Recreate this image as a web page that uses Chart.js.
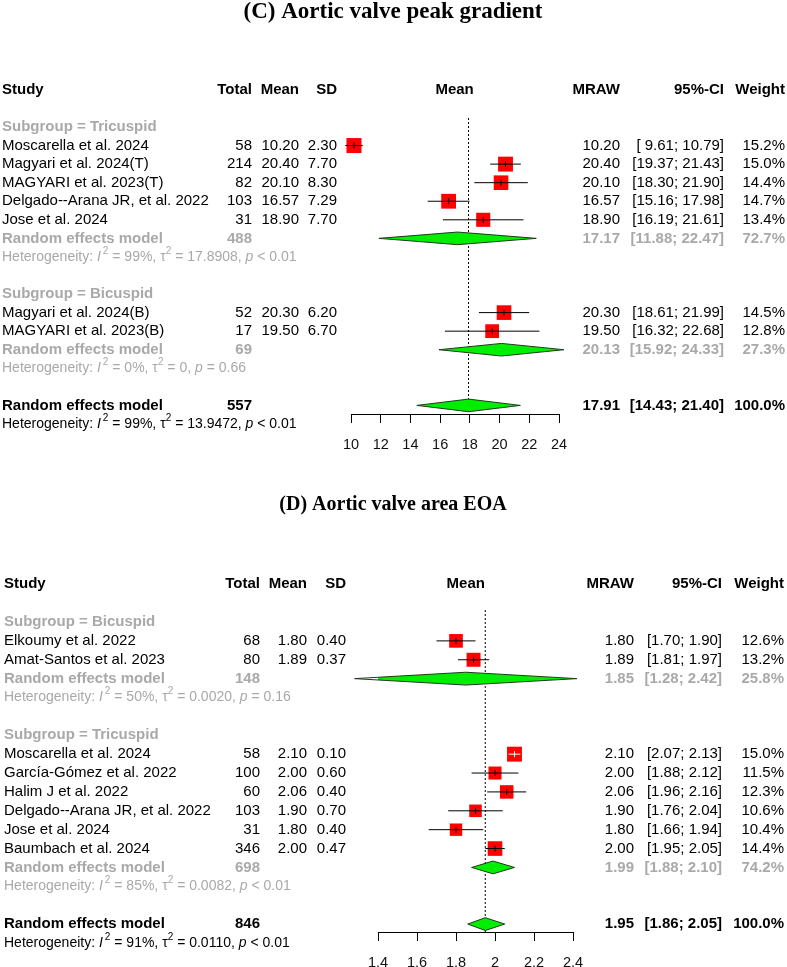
<!DOCTYPE html>
<html><head><meta charset="utf-8">
<script src="https://cdn.jsdelivr.net/npm/chart.js@4.4.0/dist/chart.umd.min.js"></script>
<style>
html,body{margin:0;padding:0;background:#fff;width:787px;height:967px;overflow:hidden}
.wrap{position:absolute;left:0;width:787px}
canvas{display:block}
</style></head><body>
<div class="wrap" style="top:0;height:483px"><canvas id="cC" width="787" height="483"></canvas></div>
<div class="wrap" style="top:483px;height:484px"><canvas id="cD" width="787" height="484"></canvas></div>
<script>
// ===== Panel C: Aortic valve peak gradient =====
const titleC = '(C) Aortic valve peak gradient';
const groupLabelsC = ['Subgroup = Tricuspid', 'Subgroup = Bicuspid'];
const studiesC_T = ['Moscarella et al. 2024','Magyari et al. 2024(T)','MAGYARI et al. 2023(T)','Delgado--Arana JR, et al. 2022','Jose et al. 2024'];
const totalC_T  = [58, 214, 82, 103, 31];
const meanC_T   = [10.20, 20.40, 20.10, 16.57, 18.90];
const sdC_T     = [2.30, 7.70, 8.30, 7.29, 7.70];
const lowerC_T  = [9.61, 19.37, 18.30, 15.16, 16.19];
const upperC_T  = [10.79, 21.43, 21.90, 17.98, 21.61];
const weightC_T = [15.2, 15.0, 14.4, 14.7, 13.4];
const studiesC_B = ['Magyari et al. 2024(B)','MAGYARI et al. 2023(B)'];
const totalC_B  = [52, 17];
const meanC_B   = [20.30, 19.50];
const sdC_B     = [6.20, 6.70];
const lowerC_B  = [18.61, 16.32];
const upperC_B  = [21.99, 22.68];
const weightC_B = [14.5, 12.8];
// random-effects results: [subgroup 1, subgroup 2, overall]
const reTotalC  = [488, 69, 557];
const reMeanC   = [17.17, 20.13, 17.91];
const reLowerC  = [11.88, 15.92, 14.43];
const reUpperC  = [22.47, 24.33, 21.40];
const reWeightC = [72.7, 27.3, 100.0];
const hetI2C    = ['99%', '0%', '99%'];
const hetTau2C  = ['17.8908', '0', '13.9472'];
const hetPC     = ['< 0.01', '= 0.66', '< 0.01'];
const ticksC      = [10, 12, 14, 16, 18, 20, 22, 24];
const tickLabelsC = ['10','12','14','16','18','20','22','24'];

// ===== Panel D: Aortic valve area EOA =====
const titleD = '(D) Aortic valve area EOA';
const groupLabelsD = ['Subgroup = Bicuspid', 'Subgroup = Tricuspid'];
const studiesD_B = ['Elkoumy et al. 2022','Amat-Santos et al. 2023'];
const totalD_B  = [68, 80];
const meanD_B   = [1.80, 1.89];
const sdD_B     = [0.40, 0.37];
const lowerD_B  = [1.70, 1.81];
const upperD_B  = [1.90, 1.97];
const weightD_B = [12.6, 13.2];
const studiesD_T = ['Moscarella et al. 2024','García-Gómez et al. 2022','Halim J et al. 2022','Delgado--Arana JR, et al. 2022','Jose et al. 2024','Baumbach et al. 2024'];
const totalD_T  = [58, 100, 60, 103, 31, 346];
const meanD_T   = [2.10, 2.00, 2.06, 1.90, 1.80, 2.00];
const sdD_T     = [0.10, 0.60, 0.40, 0.70, 0.40, 0.47];
const lowerD_T  = [2.07, 1.88, 1.96, 1.76, 1.66, 1.95];
const upperD_T  = [2.13, 2.12, 2.16, 2.04, 1.94, 2.05];
const weightD_T = [15.0, 11.5, 12.3, 10.6, 10.4, 14.4];
const reTotalD  = [148, 698, 846];
const reMeanD   = [1.85, 1.99, 1.95];
const reLowerD  = [1.28, 1.88, 1.86];
const reUpperD  = [2.42, 2.10, 2.05];
const reWeightD = [25.8, 74.2, 100.0];
const hetI2D    = ['50%', '85%', '91%'];
const hetTau2D  = ['0.0020', '0.0082', '0.0110'];
const hetPD     = ['= 0.16', '< 0.01', '< 0.01'];
const ticksD      = [1.4, 1.6, 1.8, 2, 2.2, 2.4];
const tickLabelsD = ['1.4','1.6','1.8','2','2.2','2.4'];

// ===== layout & style (not data) =====
const FONT = '"Liberation Sans", Arial, Helvetica, sans-serif';
const SERIF = '"Liberation Serif", "Times New Roman", serif';
const GREY = '#a9a9a9';
const FS = 15;
const HFS = 14;
const layoutC = {height:483, titleY:12, titleSize:23, row0:127, rowH:18.56, plotTop:118, axisY:414, plotL:351, plotR:559, xMin:10, xMax:24,
  cols:{study:2, total:252, mean:299, sd:337, mraw:620, ci:724, w:785}};
const layoutD = {height:484, titleY:22, titleSize:20, row0:139, rowH:18.88, plotTop:127, axisY:449, plotL:378, plotR:573, xMin:1.4, xMax:2.4,
  cols:{study:4, total:260, mean:307, sd:346, mraw:634, ci:722, w:784}};

const squareSide = w => 3.85 * Math.sqrt(w);
const DIAM_H = 0.34;

function drawHet(ctx, x, yy, i2, tau2, p, color) {
  const R = HFS + 'px ' + FONT, IT = 'italic ' + HFS + 'px ' + FONT, SUP = '10px ' + FONT;
  const parts = [['Heterogeneity: ', R, 0, 0], ['I', IT, 0, 2], ['2', SUP, -6, 0], [' = ' + i2 + ', \u03c4', R, 0, 0],
    ['2', SUP, -6, 0], [' = ' + tau2 + ', ', R, 0, 0], ['p', IT, 0, 0], [' ' + p, R, 0, 0]];
  ctx.textAlign = 'left'; ctx.fillStyle = color;
  let cx = x;
  parts.forEach(([t, f, dy, gap]) => { ctx.font = f; ctx.fillText(t, cx, yy + dy); cx += ctx.measureText(t).width + gap; });
}

function makePanel(canvasId, L, title, groupLabels, groups, re, het, ticks, tickLabels) {
  const studies = [], diamonds = [], labels = [], hets = [];
  let r = 0;
  groups.forEach((g, gi) => {
    labels.push({r, text: groupLabels[gi]}); r++;
    g.names.forEach((n, i) => {
      studies.push({r, name:n, total:g.total[i], mean:g.mean[i], sd:g.sd[i], lo:g.lo[i], hi:g.hi[i], w:g.w[i]}); r++;
    });
    diamonds.push({r, sub:true, total:re.total[gi], est:re.mean[gi], lo:re.lo[gi], hi:re.hi[gi], w:re.w[gi]}); r++;
    hets.push({r, sub:true, i2:het.i2[gi], tau2:het.tau2[gi], p:het.p[gi]}); r++;
    r++;
  });
  const k = groups.length;
  diamonds.push({r, sub:false, total:re.total[k], est:re.mean[k], lo:re.lo[k], hi:re.hi[k], w:re.w[k]}); r++;
  hets.push({r, sub:false, i2:het.i2[k], tau2:het.tau2[k], p:het.p[k]});

  const yMin = (L.plotTop - L.row0) / L.rowH;
  const yMax = (L.axisY - L.row0) / L.rowH;
  const overall = diamonds[diamonds.length - 1];
  const axisH = Math.min(48, L.height - L.axisY);

  const allLo = studies.map(s => s.lo).concat(diamonds.map(d => d.lo));
  const allHi = studies.map(s => s.hi).concat(diamonds.map(d => d.hi));
  const midVal = (Math.min(...allLo) + Math.max(...allHi)) / 2;
  const f2 = v => v.toFixed(2);
  const loW = Math.max(...allLo.map(v => f2(v).length));
  const hiW = Math.max(...allHi.map(v => f2(v).length));
  const ciText = (lo, hi) => '[' + f2(lo).padStart(loW, ' ') + '; ' + f2(hi).padStart(hiW, ' ') + ']';

  function inside(chart, s) {
    const x = chart.scales.x; const p = x.getPixelForValue(s.mean); const h = squareSide(s.w) / 2;
    return x.getPixelForValue(s.lo) >= p - h && x.getPixelForValue(s.hi) <= p + h;
  }

  const datasets = [
    {label:'mark', data: studies.map(s => ({x:s.mean, y:s.r})), pointStyle:'line', pointRotation:90, pointRadius:3,
      pointBorderWidth:1, pointBorderColor: ctx => inside(ctx.chart, studies[ctx.dataIndex]) ? '#ffffff' : '#000000', order:0, clip:false},
    ...studies.map(s => ({label:'ci', data:[{x:s.lo, y:s.r}, {x:s.hi, y:s.r}], showLine:true, pointRadius:0, borderWidth:1,
      borderColor: ctx => inside(ctx.chart, s) ? '#ffffff' : '#000000', order:1, clip:false})),
    {label:'study', data: studies.map(s => ({x:s.mean, y:s.r})), pointStyle:'rect', pointRadius: studies.map(s => squareSide(s.w) / Math.SQRT2),
      pointBackgroundColor:'#ff0000', pointBorderWidth:0, order:2, clip:false},
    ...diamonds.map(d => ({label:'re', data:[{x:d.lo, y:d.r}, {x:d.est, y:d.r - DIAM_H}, {x:d.hi, y:d.r}, {x:d.est, y:d.r + DIAM_H}, {x:d.lo, y:d.r}],
      showLine:true, fill:'shape', backgroundColor:'#00ee00', borderColor:'#1e3a1e', borderWidth:1, pointRadius:0, tension:0, order:3, clip:false})),
    {label:'ref', data:[{x:overall.est, y:yMin}, {x:overall.est, y:yMax}], showLine:true, borderDash:[2, 2], borderColor:'#000000',
      borderWidth:1, pointRadius:0, order:4, clip:false}
  ];

  const C = L.cols;
  const textPlugin = {
    id: 'forestText' + canvasId,
    afterDraw(chart) {
      const ctx = chart.ctx;
      const Y = v => chart.scales.y.getPixelForValue(v);
      const X = v => chart.scales.x.getPixelForValue(v);
      const R = FS + 'px ' + FONT, B = 'bold ' + FS + 'px ' + FONT;
      const put = (t, x, yy, align, font, color) => { ctx.font = font; ctx.fillStyle = color; ctx.textAlign = align; ctx.fillText(t, x, yy); };
      ctx.save();
      ctx.textBaseline = 'middle';
      put(title, 393, L.titleY, 'center', 'bold ' + L.titleSize + 'px ' + SERIF, '#000');
      const hy = Y(-2);
      put('Study', C.study, hy, 'left', B, '#000');
      put('Total', C.total, hy, 'right', B, '#000');
      put('Mean', C.mean, hy, 'right', B, '#000');
      put('SD', C.sd, hy, 'right', B, '#000');
      put('Mean', X(midVal), hy, 'center', B, '#000');
      put('MRAW', C.mraw, hy, 'right', B, '#000');
      put('95%-CI', C.ci, hy, 'right', B, '#000');
      put('Weight', C.w, hy, 'right', B, '#000');
      labels.forEach(l => put(l.text, C.study, Y(l.r), 'left', B, GREY));
      studies.forEach(s => {
        const yy = Y(s.r);
        put(s.name, C.study, yy, 'left', R, '#000');
        put(String(s.total), C.total, yy, 'right', R, '#000');
        put(f2(s.mean), C.mean, yy, 'right', R, '#000');
        put(f2(s.sd), C.sd, yy, 'right', R, '#000');
        put(f2(s.mean), C.mraw, yy, 'right', R, '#000');
        put(ciText(s.lo, s.hi), C.ci, yy, 'right', R, '#000');
        put(s.w.toFixed(1) + '%', C.w, yy, 'right', R, '#000');
      });
      diamonds.forEach(d => {
        const yy = Y(d.r); const col = d.sub ? GREY : '#000';
        put('Random effects model', C.study, yy, 'left', B, col);
        put(String(d.total), C.total, yy, 'right', B, col);
        put(f2(d.est), C.mraw, yy, 'right', B, col);
        put(ciText(d.lo, d.hi), C.ci, yy, 'right', B, col);
        put(d.w.toFixed(1) + '%', C.w, yy, 'right', B, col);
      });
      hets.forEach(h => drawHet(ctx, C.study, Y(h.r), h.i2, h.tau2, h.p, h.sub ? GREY : '#000'));
      ctx.restore();
    }
  };

  return new Chart(document.getElementById(canvasId), {
    type: 'scatter',
    data: {datasets},
    options: {
      responsive:false, animation:false, devicePixelRatio:1, events:[],
      layout:{padding:{left:L.plotL, right:787 - L.plotR, top:L.plotTop, bottom:L.height - L.axisY - axisH}},
      plugins:{legend:{display:false}, tooltip:{enabled:false}},
      scales:{
        x:{type:'linear', position:'bottom', min:L.xMin, max:L.xMax,
          afterBuildTicks: s => { s.ticks = ticks.map(v => ({value:v})); },
          afterFit: s => { s.height = axisH; },
          grid:{display:true, drawOnChartArea:false, drawTicks:true, tickLength:9, color:'#000', lineWidth:1},
          border:{display:true, color:'#000', width:1},
          ticks:{font:{size:14.5, family:FONT}, color:'#111', padding:13, maxRotation:0, autoSkip:false,
            callback:(v, i) => tickLabels[i]}},
        y:{type:'linear', display:false, reverse:true, min:yMin, max:yMax}
      }
    },
    plugins:[textPlugin]
  });
}

makePanel('cC', layoutC, titleC, groupLabelsC,
  [{names:studiesC_T, total:totalC_T, mean:meanC_T, sd:sdC_T, lo:lowerC_T, hi:upperC_T, w:weightC_T},
   {names:studiesC_B, total:totalC_B, mean:meanC_B, sd:sdC_B, lo:lowerC_B, hi:upperC_B, w:weightC_B}],
  {total:reTotalC, mean:reMeanC, lo:reLowerC, hi:reUpperC, w:reWeightC},
  {i2:hetI2C, tau2:hetTau2C, p:hetPC}, ticksC, tickLabelsC);

makePanel('cD', layoutD, titleD, groupLabelsD,
  [{names:studiesD_B, total:totalD_B, mean:meanD_B, sd:sdD_B, lo:lowerD_B, hi:upperD_B, w:weightD_B},
   {names:studiesD_T, total:totalD_T, mean:meanD_T, sd:sdD_T, lo:lowerD_T, hi:upperD_T, w:weightD_T}],
  {total:reTotalD, mean:reMeanD, lo:reLowerD, hi:reUpperD, w:reWeightD},
  {i2:hetI2D, tau2:hetTau2D, p:hetPD}, ticksD, tickLabelsD);
</script>
</body></html>
